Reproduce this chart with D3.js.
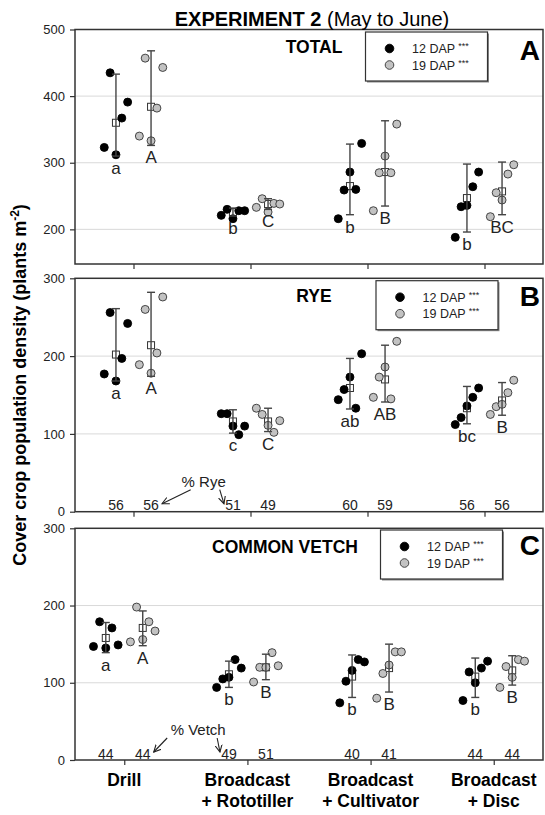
<!DOCTYPE html>
<html>
<head>
<meta charset="utf-8">
<script src="https://cdn.jsdelivr.net/npm/d3@7"></script>
<style>
  body { margin: 0; background: #fff; }
  svg { display: block; }
  text { font-family: "Liberation Sans", Arial, Helvetica, sans-serif; }
</style>
</head>
<body>
<svg id="chart" width="545" height="815"></svg>
<script>
// categories and x labels
var categories = ["Drill", "Broadcast + Rototiller", "Broadcast + Cultivator", "Broadcast + Disc"];
var catLines = [["Drill"], ["Broadcast", "+ Rototiller"], ["Broadcast", "+ Cultivator"], ["Broadcast", "+ Disc"]];
// jitter of the five replicates (in category steps)
var repJitter = [-0.10, -0.05, 0, 0.05, 0.10];

// TOTAL
var total12 = [[323, 435, 312, 367, 391], [221, 230, 216, 228, 228], [216, 259, 286, 260, 329], [188, 234, 236, 264, 286]];
var total12Mean = [360, 226, 265, 247];
var total12Lo = [310, 220, 222, 196];
var total12Hi = [433, 232, 328, 298];
var total12Letters = ["a", "b", "b", "b"];
var total19 = [[340, 457, 333, 382, 443], [233, 246, 226, 239, 238], [228, 285, 310, 285, 358], [219, 255, 244, 283, 297]];
var total19Mean = [384, 238, 286, 257];
var total19Lo = [326, 230, 235, 222];
var total19Hi = [468, 246, 363, 301];
var total19Letters = ["A", "C", "B", "BC"];

// RYE
var rye12 = [[177, 256, 168, 197, 242], [126, 126, 110, 99, 110], [144, 157, 173, 133, 203], [112, 121, 136, 147, 159]];
var rye12Mean = [202, 116, 159, 133];
var rye12Lo = [168, 101, 132, 113];
var rye12Hi = [261, 131, 197, 161];
var rye12Letters = ["a", "c", "ab", "bc"];
var rye19 = [[189, 260, 178, 204, 276], [133, 125, 111, 102, 117], [147, 173, 186, 145, 219], [125, 135, 138, 153, 169]];
var rye19Mean = [214, 116, 170, 143];
var rye19Lo = [174, 103, 141, 124];
var rye19Hi = [282, 133, 214, 166];
var rye19Letters = ["A", "C", "AB", "B"];
var ryePct12 = [56, 51, 60, 56];
var ryePct19 = [56, 49, 59, 56];

// COMMON VETCH
var vetch12 = [[147, 179, 145, 171, 149], [94, 105, 107, 130, 119], [74, 102, 116, 130, 127], [77, 114, 100, 119, 128]];
var vetch12Mean = [158, 111, 108, 108];
var vetch12Lo = [139, 94, 81, 81];
var vetch12Hi = [178, 128, 136, 132];
var vetch12Letters = ["a", "b", "b", "b"];
var vetch19 = [[153, 198, 156, 179, 167], [101, 120, 120, 139, 122], [80, 112, 123, 140, 140], [94, 121, 107, 130, 128]];
var vetch19Mean = [171, 120, 119, 116];
var vetch19Lo = [148, 104, 88, 97];
var vetch19Hi = [193, 137, 150, 135];
var vetch19Letters = ["A", "B", "B", "B"];
var vetchPct12 = [44, 49, 40, 44];
var vetchPct19 = [44, 51, 41, 44];

var svg = d3.select("#chart");
var left = 75, right = 543;

svg.append("defs").append("marker")
    .attr("id", "arrow")
    .attr("viewBox", "0 0 8 8")
    .attr("refX", 7).attr("refY", 4)
    .attr("markerWidth", 8).attr("markerHeight", 8)
    .attr("markerUnits", "userSpaceOnUse")
    .attr("orient", "auto")
    .append("path")
    .attr("d", "M0,0.5 L7,4 L0,7.5")
    .attr("fill", "none")
    .attr("stroke", "#222")
    .attr("stroke-width", 1.1);

var panels = [
    {tag: "A", title: "TOTAL", domain: [148, 500], ticks: [200, 300, 400, 500], top: 29.5, bottom: 264, pad: 0.5,
        s12: {vals: total12, mean: total12Mean, lo: total12Lo, hi: total12Hi, letters: total12Letters},
        s19: {vals: total19, mean: total19Mean, lo: total19Lo, hi: total19Hi, letters: total19Letters},
        titleX: 314, titleY: 53, legX: 365.5, legY: 32, tagY: 60},
    {tag: "B", title: "RYE", domain: [0, 300], ticks: [0, 100, 200, 300], top: 278.3, bottom: 511.7, pad: 0.5,
        s12: {vals: rye12, mean: rye12Mean, lo: rye12Lo, hi: rye12Hi, letters: rye12Letters, pct: ryePct12},
        s19: {vals: rye19, mean: rye19Mean, lo: rye19Lo, hi: rye19Hi, letters: rye19Letters, pct: ryePct19},
        note: "% Rye", titleX: 314, titleY: 302, legX: 376, legY: 280.7, tagY: 306},
    {tag: "C", title: "COMMON VETCH", domain: [0, 300], ticks: [0, 100, 200, 300], top: 528.3, bottom: 760, pad: 0.4,
        s12: {vals: vetch12, mean: vetch12Mean, lo: vetch12Lo, hi: vetch12Hi, letters: vetch12Letters, pct: vetchPct12},
        s19: {vals: vetch19, mean: vetch19Mean, lo: vetch19Lo, hi: vetch19Hi, letters: vetch19Letters, pct: vetchPct19},
        note: "% Vetch", titleX: 285, titleY: 553, legX: 380.5, legY: 530, tagY: 555, xLabels: true}
];

function drawSeries(g, x, y, s, off, fill) {
    var groups = g.append("g").selectAll("g")
        .data(categories.map(function (c, i) { return i; }))
        .enter().append("g");

    // mean squares
    groups.append("rect")
        .attr("x", function (i) { return x(i + off) - 3.5; })
        .attr("y", function (i) { return y(s.mean[i]) - 3.5; })
        .attr("width", 7).attr("height", 7)
        .attr("fill", "#fff")
        .attr("stroke", "#333")
        .attr("stroke-width", 1);

    // replicate points
    groups.selectAll("circle")
        .data(function (i) { return s.vals[i].map(function (v, k) { return {i: i, k: k, v: v}; }); })
        .enter().append("circle")
        .attr("cx", function (d) { return x(d.i + off + repJitter[d.k]); })
        .attr("cy", function (d) { return y(d.v); })
        .attr("r", 4)
        .attr("fill", fill)
        .attr("stroke", fill === "#000" ? "#000" : "#333")
        .attr("stroke-width", 0.9);

    // error bars
    groups.append("line")
        .attr("x1", function (i) { return x(i + off); })
        .attr("x2", function (i) { return x(i + off); })
        .attr("y1", function (i) { return y(s.lo[i]); })
        .attr("y2", function (i) { return y(s.hi[i]); })
        .attr("stroke", "#444").attr("stroke-width", 1.4);
    ["lo", "hi"].forEach(function (end) {
        groups.append("line")
            .attr("x1", function (i) { return x(i + off) - 4; })
            .attr("x2", function (i) { return x(i + off) + 4; })
            .attr("y1", function (i) { return y(s[end][i]); })
            .attr("y2", function (i) { return y(s[end][i]); })
            .attr("stroke", "#444").attr("stroke-width", 1.4);
    });

    // significance letters
    groups.append("text")
        .attr("x", function (i) { return x(i + off); })
        .attr("y", function (i) { return y(s.lo[i]) + 18; })
        .attr("text-anchor", "middle")
        .attr("font-size", 17)
        .attr("fill", "#222")
        .text(function (i) { return s.letters[i]; });

    // percent of mixture
    if (s.pct) {
        groups.append("text")
            .attr("x", function (i) { return x(i + off); })
            .attr("y", y(0) - 1.5)
            .attr("text-anchor", "middle")
            .attr("font-size", 14)
            .attr("fill", "#222")
            .text(function (i) { return s.pct[i]; });
    }
}

panels.forEach(function (p) {
    var x = d3.scaleLinear().domain([-p.pad, 3 + p.pad]).range([left, right]);
    var y = d3.scaleLinear().domain(p.domain).range([p.bottom, p.top]);
    var g = svg.append("g");

    // grid lines
    g.selectAll(".grid")
        .data(p.ticks.filter(function (t) { return t > p.domain[0] && t < p.domain[1]; }))
        .enter().append("line")
        .attr("x1", left).attr("x2", right)
        .attr("y1", function (t) { return y(t); })
        .attr("y2", function (t) { return y(t); })
        .attr("stroke", "#d9d9d9").attr("stroke-width", 1);

    var ya = g.append("g")
        .attr("transform", "translate(" + left + ",0)")
        .call(d3.axisLeft(y).tickValues(p.ticks).tickSize(5).tickPadding(5));
    ya.select(".domain").remove();
    ya.selectAll("text").attr("font-size", 13).attr("fill", "#222")
        .style("font-family", '"Liberation Sans", Arial, sans-serif');
    ya.selectAll("line").attr("stroke", "#333").attr("stroke-width", 1.2);

    var xa = g.append("g")
        .attr("transform", "translate(0," + p.bottom + ")")
        .call(d3.axisBottom(x).tickValues([0, 1, 2, 3]).tickSize(5).tickFormat(""));
    xa.select(".domain").remove();
    xa.selectAll("line").attr("stroke", "#333").attr("stroke-width", 1.2);

    g.append("rect")
        .attr("x", left).attr("y", p.top)
        .attr("width", right - left).attr("height", p.bottom - p.top)
        .attr("fill", "none").attr("stroke", "#333").attr("stroke-width", 1.5);

    drawSeries(g, x, y, p.s12, -0.15, "#000");
    drawSeries(g, x, y, p.s19, 0.15, "#c2c2c2");

    // panel title and tag
    g.append("text").attr("x", p.titleX).attr("y", p.titleY)
        .attr("text-anchor", "middle").attr("font-size", 17.5).attr("font-weight", "bold")
        .text(p.title);
    g.append("text").attr("x", 540).attr("y", p.tagY)
        .attr("text-anchor", "end").attr("font-size", 28).attr("font-weight", "bold")
        .text(p.tag);

    // legend
    var lg = g.append("g").attr("transform", "translate(" + p.legX + "," + p.legY + ")");
    lg.append("rect").attr("x", 1.5).attr("y", 1.5).attr("width", 122).attr("height", 49).attr("fill", "#888");
    lg.append("rect").attr("width", 122).attr("height", 49)
        .attr("fill", "#fff").attr("stroke", "#333").attr("stroke-width", 1.2);
    [["12 DAP", "#000"], ["19 DAP", "#c2c2c2"]].forEach(function (e, k) {
        lg.append("circle").attr("cx", 24).attr("cy", 16.5 + k * 16.5).attr("r", 4.3)
            .attr("fill", e[1]).attr("stroke", k ? "#333" : "#000").attr("stroke-width", 0.9);
        var t = lg.append("text").attr("x", 46.5).attr("y", 21 + k * 16.5)
            .attr("font-size", 12.5).attr("fill", "#222").text(e[0] + " ");
        t.append("tspan").attr("font-size", 9).attr("dy", -4).text("***");
    });

    // "% Rye" / "% Vetch" note with arrows
    if (p.note) {
        var base = y(0);
        var nx = x(0.6);
        g.append("text").attr("x", nx).attr("y", base - 25)
            .attr("text-anchor", "middle").attr("font-size", 15).attr("fill", "#222")
            .text(p.note);
        var tA = x(0 + 0.15), tB = x(1 - 0.15);
        g.append("line")
            .attr("x1", nx - (p.tag === "B" ? 13 : 31)).attr("y1", base - 22)
            .attr("x2", tA + 11).attr("y2", base - 8)
            .attr("stroke", "#222").attr("stroke-width", 1.1).attr("marker-end", "url(#arrow)");
        g.append("line")
            .attr("x1", nx + (p.tag === "B" ? 16 : 19)).attr("y1", base - 22)
            .attr("x2", tB - 9).attr("y2", base - 8)
            .attr("stroke", "#222").attr("stroke-width", 1.1).attr("marker-end", "url(#arrow)");
    }

    // category labels under the last panel
    if (p.xLabels) {
        var lab = g.append("g").selectAll("text")
            .data(catLines).enter().append("text")
            .attr("x", function (d, i) { return x(i); })
            .attr("y", 786)
            .attr("text-anchor", "middle").attr("font-size", 17.5).attr("font-weight", "bold");
        lab.selectAll("tspan").data(function (d) { return d; }).enter().append("tspan")
            .attr("x", function () { return d3.select(this.parentNode).attr("x"); })
            .attr("dy", function (d, k) { return k ? 20.5 : 0; })
            .text(function (d) { return d; });
    }
});

// figure title
var title = svg.append("text").attr("x", 312).attr("y", 26)
    .attr("text-anchor", "middle").attr("font-size", 20);
title.append("tspan").attr("font-weight", "bold").text("EXPERIMENT 2 ");
title.append("tspan").text("(May to June)");

// y axis title
var yt = svg.append("text")
    .attr("transform", "translate(26,385) rotate(-90)")
    .attr("text-anchor", "middle").attr("font-size", 18).attr("font-weight", "bold")
    .text("Cover crop population density (plants m");
yt.append("tspan").attr("font-size", 12).attr("dy", -7).text("-2");
yt.append("tspan").attr("dy", 7).text(")");
</script>
</body>
</html>
